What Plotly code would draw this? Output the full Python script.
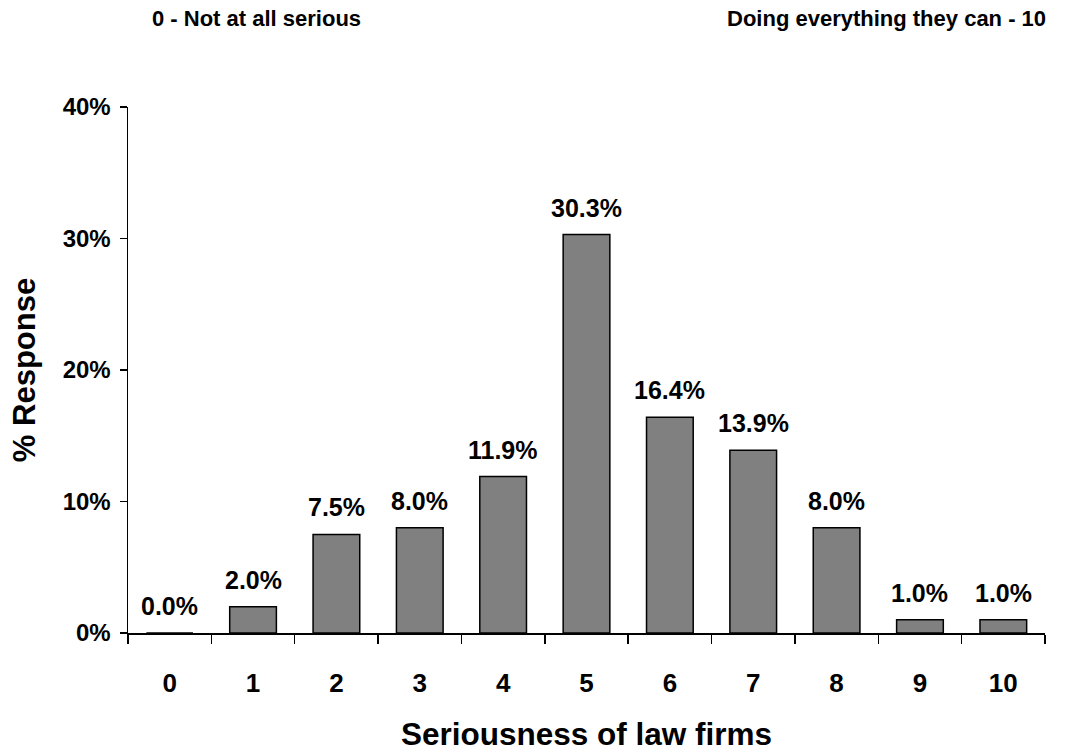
import plotly.graph_objects as go

categories = ["0", "1", "2", "3", "4", "5", "6", "7", "8", "9", "10"]
values = [0.0, 0.020, 0.075, 0.080, 0.119, 0.303, 0.164, 0.139, 0.080, 0.010, 0.010]
value_labels = ["0.0%", "2.0%", "7.5%", "8.0%", "11.9%", "30.3%", "16.4%", "13.9%", "8.0%", "1.0%", "1.0%"]
left_note = "0 - Not at all serious"
right_note = "Doing everything they can - 10"
x_title = "Seriousness of law firms"
y_title = "% Response"

FONT = "Arial, Liberation Sans, sans-serif"

fig = go.Figure()
fig.add_trace(go.Bar(
    x=categories,
    y=values,
    marker=dict(color="#808080", line=dict(color="#000000", width=1.5)),
    hoverinfo="skip",
))

annotations = []
for c, v, t in zip(categories, values, value_labels):
    annotations.append(dict(
        x=c, y=v, xref="x", yref="y", text="<b>%s</b>" % t,
        showarrow=False, yanchor="bottom", xanchor="center", yshift=11,
        font=dict(family=FONT, size=25, color="#000000"),
    ))

annotations.append(dict(
    x=0.0, y=1, xref="paper", yref="paper", text="<b>%s</b>" % left_note,
    showarrow=False, xanchor="left", yanchor="middle", xshift=22, yshift=89,
    font=dict(family=FONT, size=22, color="#000000"),
))
annotations.append(dict(
    x=1.0, y=1, xref="paper", yref="paper", text="<b>%s</b>" % right_note,
    showarrow=False, xanchor="right", yanchor="middle", xshift=3, yshift=89,
    font=dict(family=FONT, size=22, color="#000000"),
))

fig.update_layout(
    width=1065, height=752,
    margin=dict(l=128, r=20, t=107, b=119, autoexpand=False),
    paper_bgcolor="white", plot_bgcolor="white",
    bargap=0.44,
    showlegend=False,
    annotations=annotations,
    font=dict(family=FONT, color="#000000"),
)

fig.update_xaxes(
    type="category",
    tickson="boundaries",
    ticks="outside", ticklen=9, tickwidth=1.5, tickcolor="#000000",
    showline=True, linecolor="#000000", linewidth=1.5,
    showgrid=False, zeroline=False,
    tickfont=dict(family=FONT, size=26, color="#000000"),
    tickprefix="<b>", ticksuffix="</b>",
    ticklabelstandoff=26,
    automargin=False,
    title=dict(text="<b>%s</b>" % x_title, font=dict(family=FONT, size=31.5, color="#000000"), standoff=27),
)

fig.update_yaxes(
    range=[0, 0.4], dtick=0.1, tickformat=".0%",
    ticks="outside", ticklen=7, tickwidth=1.5, tickcolor="#000000",
    showline=True, linecolor="#000000", linewidth=1.5,
    showgrid=False, zeroline=False,
    tickfont=dict(family=FONT, size=24, color="#000000"),
    tickprefix="<b>", ticksuffix="</b>",
    ticklabelstandoff=4,
    automargin=False,
    title=dict(text="<b>%s</b>" % y_title, font=dict(family=FONT, size=31, color="#000000"), standoff=18),
)

fig.write_html(
    "out.html",
    config={"displayModeBar": False, "staticPlot": True},
    post_script="document.body.style.margin='0';document.body.style.overflow='hidden';",
)
